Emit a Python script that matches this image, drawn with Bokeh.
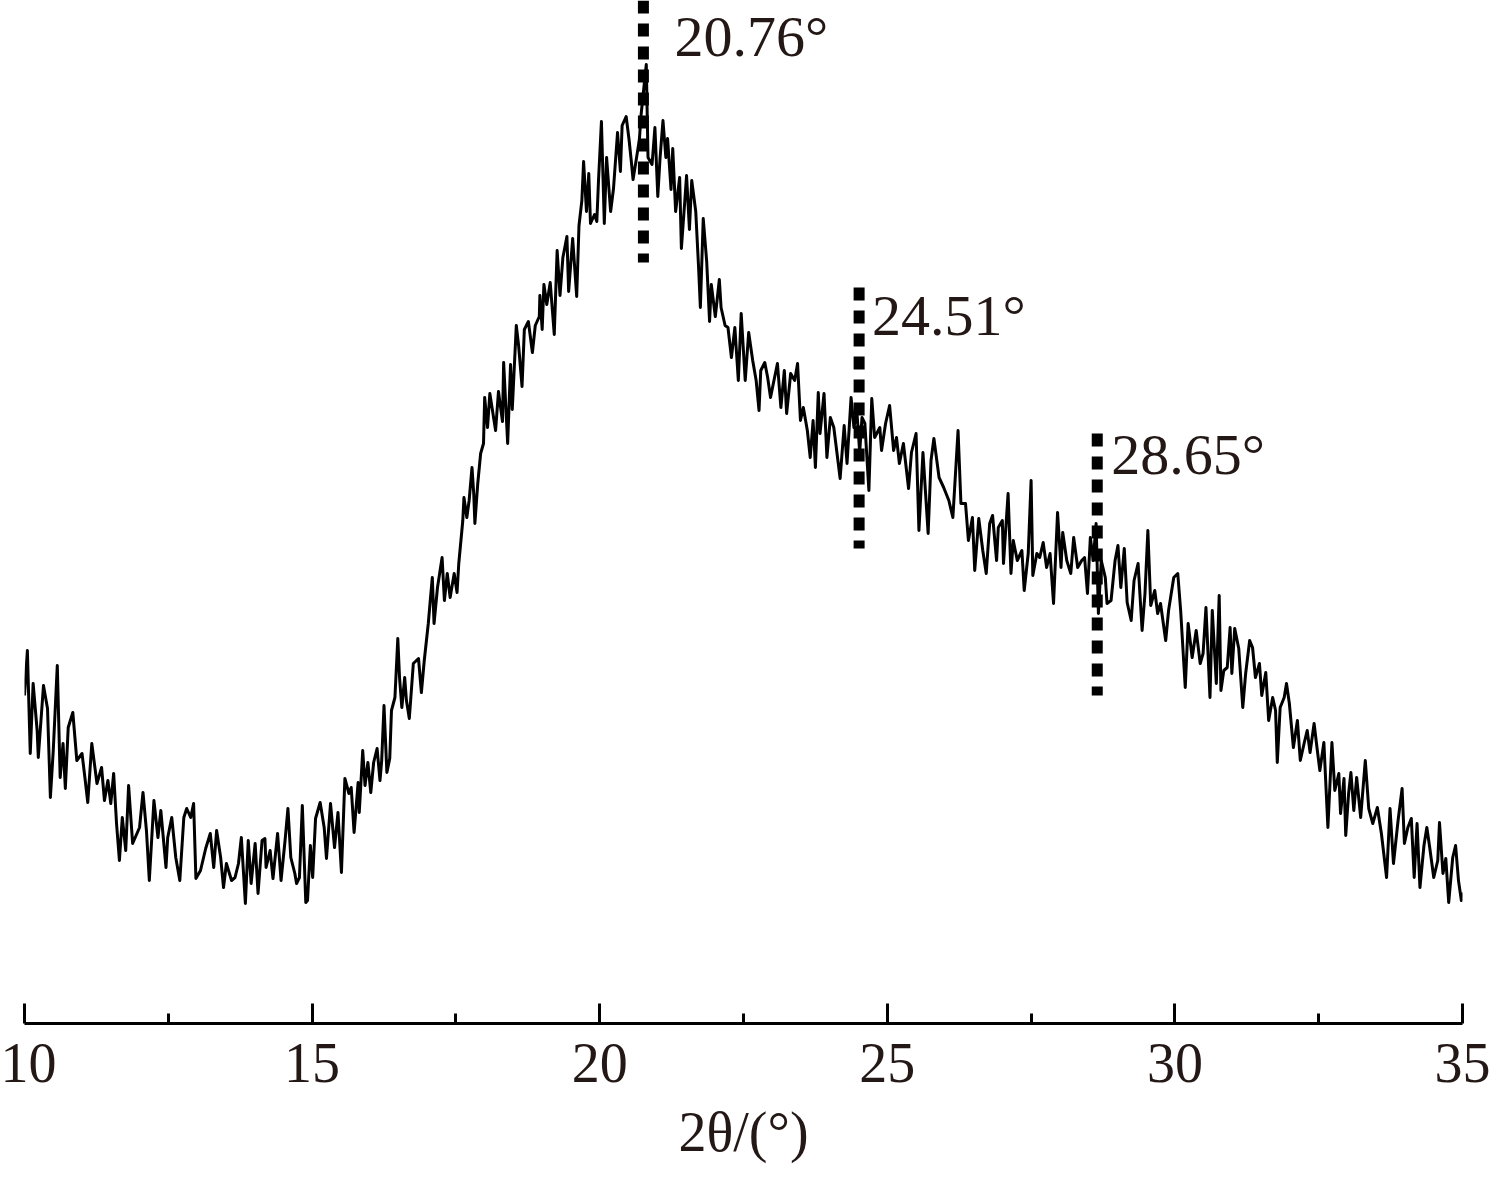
from bokeh.plotting import figure
from bokeh.models import Range1d, FixedTicker, Label
from bokeh.embed import file_html
from bokeh.resources import INLINE

# ---------------- data ----------------
# 2theta (deg) and intensity (a.u.), split into consecutive segments
tt_a = [10.00,10.05,10.10,10.15,10.22,10.24,10.33,10.40,10.45,10.50,
        10.57,10.62,10.67,10.71,10.76,10.84,10.91,11.00,11.05,11.10,
        11.17,11.26,11.34,11.39,11.45,11.50,11.55,11.60,11.65,11.70,
        11.76,11.81,11.88,12.00,12.06,12.12,12.17,12.25,12.32,12.37,
        12.46,12.49,12.56,12.63,12.70,12.77,12.82,12.89,12.94,12.98,
        13.06,13.15,13.23,13.29,13.34,13.41,13.46,13.51,13.60,13.66,
        13.72,13.77,13.84,13.89,13.94,14.01,14.06,14.13]
in_a = [328,373,270,340,293,266,338,315,226,273,
        358,246,280,235,296,311,263,270,246,221,
        280,240,256,223,243,220,250,200,163,206,
        173,238,180,196,231,193,143,223,186,213,
        156,186,206,166,143,206,215,206,220,145,
        153,175,190,156,193,166,136,160,143,146,
        160,186,120,183,140,180,130,183]

tt_b = [14.18,14.20,14.27,14.32,14.40,14.46,14.53,14.58,14.63,14.70,
        14.73,14.78,14.83,14.89,14.92,14.97,15.01,15.06,15.14,15.21,
        15.25,15.32,15.39,15.45,15.51,15.57,15.64,15.68,15.73,15.80,
        15.82,15.88,15.92,15.97,16.02,16.07,16.13,16.18,16.21,16.25,
        16.30,16.35,16.38,16.44,16.49,16.52,16.56,16.61,16.64,16.69,
        16.76,16.85,16.90,16.95,17.02,17.05,17.09,17.12,17.18,17.26,
        17.30,17.35,17.40,17.47,17.52,17.55]
in_b = [185,156,173,145,190,143,183,215,166,150,
        140,146,218,121,123,178,146,205,221,196,
        165,220,176,211,151,245,230,236,191,241,
        211,273,238,261,231,261,275,243,263,318,
        251,265,313,326,385,346,316,346,323,305,
        360,365,331,363,400,420,446,400,436,466,
        423,450,426,450,431,460]

tt_c = [17.62,17.64,17.69,17.73,17.78,17.81,17.83,17.88,17.93,17.98,18.00,18.05,18.09]
in_c = [503,526,506,523,556,530,500,540,570,580,626,596,630]

tt_d = [18.19,18.24,18.31,18.33,18.40,18.45,18.48,18.55,18.59,18.65,
        18.69,18.76,18.83,18.88,18.95,18.96,19.00,19.03,19.08,19.14,
        19.21,19.26,19.31,19.36,19.43,19.46,19.53,19.60,19.64,19.69,
        19.72,19.77,19.81,19.84,19.91,19.95,19.98,20.03,20.08,20.12,
        20.19,20.24,20.31,20.36,20.39,20.46,20.51,20.55,20.58,20.63,
        20.69,20.72,20.77,20.81,20.84,20.91,20.96,21.01,21.05,21.10,
        21.15,21.18,21.24,21.27,21.32,21.39,21.42,21.48,21.51,21.56,
        21.60,21.67,21.72,21.75,21.80,21.86,21.91,21.94,22.01,22.08,
        22.11,22.18]
in_d = [593,632,602,661,580,659,614,698,678,637,
        694,702,671,698,707,728,694,739,719,741,
        689,773,728,766,787,732,785,727,798,823,
        862,812,850,800,809,802,844,902,800,866,
        812,835,891,852,898,907,884,862,844,862,
        884,909,937,959,866,859,896,827,866,903,
        866,885,834,875,812,846,775,823,848,794,
        843,812,755,716,805,762,702,739,707,744,
        716,698]

tt_e = [22.23,22.29,22.35,22.41,22.46,22.53,22.59,22.66,22.72,22.77,
        22.80,22.87,22.92,22.97,23.04,23.09,23.15,23.21,23.25,23.32,
        23.39,23.44,23.49,23.54,23.61,23.66,23.71,23.75,23.80,23.83,
        23.90,23.95,24.01,24.07,24.18,24.25,24.30,24.37,24.42,24.47,
        24.52,24.56,24.61,24.68,24.73,24.78,24.87,24.90,24.97,25.04,
        25.11,25.16,25.21,25.28,25.37,25.42,25.50,25.55,25.62,25.71,
        25.76,25.81,25.90,25.98,26.07,26.14,26.23,26.28]
in_e = [696,666,696,643,710,643,691,663,643,613,
        653,661,646,626,646,660,616,653,610,650,
        643,660,603,616,593,566,603,556,631,590,
        630,566,606,596,545,598,560,626,596,613,
        571,606,600,533,625,586,596,573,600,618,
        573,586,560,580,535,571,590,493,571,490,
        563,585,546,536,523,506,593,520]

tt_f = [26.36,26.41,26.48,26.52,26.59,26.66,26.72,26.78,26.83,26.90,
        26.93,27.00,27.02,27.10,27.15,27.19,27.26,27.34,27.38,27.45,
        27.50,27.53,27.60,27.65,27.71,27.77,27.83,27.89,27.96,28.02,
        28.05,28.12,28.19,28.24,28.31,28.38,28.43,28.48,28.53,28.58,
        28.63,28.67,28.72,28.79,28.82,28.89,28.96,29.01,29.06,29.12,
        29.17,29.24,29.29,29.36,29.43,29.48,29.53,29.58,29.65,29.70,
        29.75,29.84,29.89,29.98,30.05,30.10,30.18,30.23,30.30,30.37,
        30.44]
in_f = [520,483,506,453,505,473,450,500,508,463,
        496,503,460,530,450,483,463,473,433,470,
        543,448,470,466,481,456,470,420,511,456,
        491,463,450,486,456,463,466,430,486,463,
        500,410,463,446,420,423,463,478,436,475,
        421,403,443,460,393,430,493,418,433,410,
        420,383,413,446,450,413,336,400,366,393,
        360]

tt_g = [30.49,30.54,30.61,30.65,30.72,30.77,30.80,30.85,30.91,30.96,
        30.99,31.04,31.11,31.18,31.23,31.30,31.35,31.40,31.47,31.51,
        31.58,31.63,31.70,31.75,31.78,31.83,31.90,31.94,31.99,32.06,
        32.13,32.18,32.25,32.30,32.35,32.42,32.47,32.52,32.59,32.66,
        32.73,32.78,32.85,32.88,32.94,32.97,33.02,33.06,33.11,33.16,
        33.23,33.31,33.37,33.44,33.52,33.59,33.68,33.74,33.80,33.88,
        33.95,33.99,34.05,34.11,34.16,34.21,34.26,34.33,34.38,34.43,
        34.50,34.57,34.60,34.66,34.71,34.76,34.83,34.88,34.93,34.98,
        35.00]
in_g = [370,416,326,413,340,428,333,353,356,396,
        350,395,375,316,350,383,376,346,360,328,
        351,303,326,313,261,316,326,340,320,276,
        303,263,281,293,271,300,276,253,281,196,
        281,233,250,210,245,188,230,251,213,246,
        206,263,215,200,216,190,146,215,160,203,
        235,180,196,205,146,200,136,178,196,176,
        146,163,201,150,165,121,166,178,143,123,
        131]

peak_pos = [20.76, 24.51, 28.65]
peak_labels = ["20.76\u00b0", "24.51\u00b0", "28.65\u00b0"]

major_ticks = [10, 15, 20, 25, 30, 35]
minor_ticks = [12.5, 17.5, 22.5, 27.5, 32.5]

two_theta = tt_a + tt_b + tt_c + tt_d + tt_e + tt_f + tt_g
intensity = in_a + in_b + in_c + in_d + in_e + in_f + in_g
assert len(two_theta) == len(intensity)

# ---------------- layout / style ----------------
dash_top = [1023, 736, 590]       # extent of the dashed marker lines (a.u.)
dash_bottom = [761, 475, 328]
label_y = [987, 708, 569]         # vertical centre of the peak labels
label_dx = [31, 13, 14]

SERIF = "Liberation Serif"
TXT = "#231815"

p = figure(width=1495, height=1166,
           x_range=Range1d(10, 35), y_range=Range1d(0, 1023),
           output_backend="svg", toolbar_location=None,
           y_axis_location=None,
           min_border_left=24, min_border_right=33,
           min_border_top=0, min_border_bottom=143)
p.outline_line_color = None
p.xgrid.visible = False
p.ygrid.visible = False
p.background_fill_color = "white"
p.border_fill_color = "white"

ax = p.xaxis[0]
ax.ticker = FixedTicker(ticks=major_ticks, minor_ticks=minor_ticks)
ax.axis_line_width = 3
ax.axis_line_color = "black"
ax.major_tick_in = 20
ax.major_tick_out = 0
ax.major_tick_line_width = 3
ax.major_tick_line_color = "black"
ax.minor_tick_in = 10
ax.minor_tick_out = 0
ax.minor_tick_line_width = 3
ax.minor_tick_line_color = "black"
ax.major_label_text_font = SERIF
ax.major_label_text_font_size = "56px"
ax.major_label_text_color = TXT
ax.major_label_standoff = 20
ax.axis_label = "2\u03b8/(\u00b0)"
ax.axis_label_text_font = SERIF
ax.axis_label_text_font_size = "56px"
ax.axis_label_text_font_style = "normal"
ax.axis_label_text_color = TXT
ax.axis_label_standoff = 16

p.line(two_theta, intensity, line_color="black", line_width=3, line_join="round")

p.segment(x0=peak_pos, y0=dash_top, x1=peak_pos, y1=dash_bottom,
          line_color="black", line_width=11, line_dash="13 10", line_cap="butt")

for xv, yv, dx, t in zip(peak_pos, label_y, label_dx, peak_labels):
    p.add_layout(Label(x=xv, y=yv, x_offset=dx, text=t, text_font=SERIF,
                       text_font_size="58px", text_color=TXT,
                       text_baseline="middle", text_align="left"))

open("out.html", "w").write(file_html(p, INLINE))
